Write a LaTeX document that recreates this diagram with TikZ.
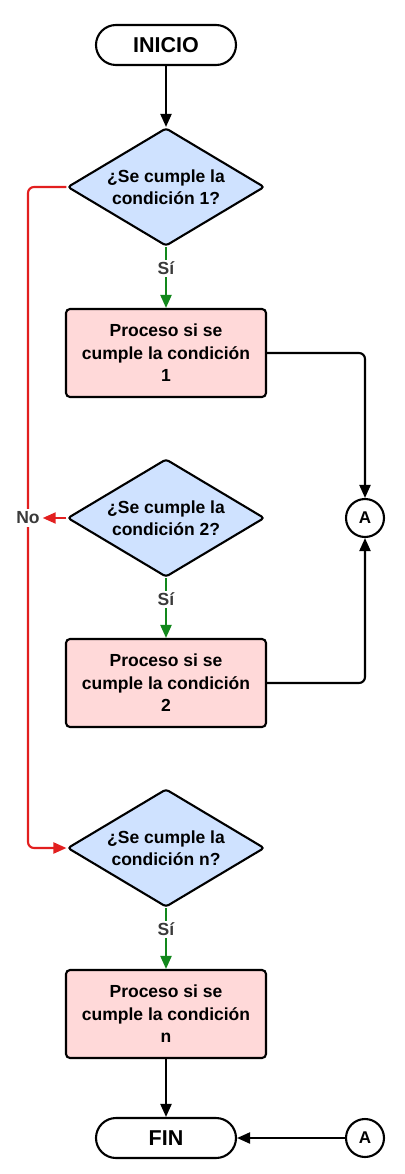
\documentclass[tikz,border=0pt]{standalone}
\usepackage{fontspec}
\setmainfont{Liberation Sans}
\usetikzlibrary{shapes.geometric, arrows.meta}
\definecolor{azulclaro}{HTML}{CFE2FF}
\definecolor{rosa}{HTML}{FFD9D9}
\definecolor{verde}{HTML}{12881C}
\definecolor{rojo}{HTML}{E21F1F}
\definecolor{gris}{HTML}{3A3A3A}
\begin{document}
\begin{tikzpicture}[x=1pt, y=1pt, node distance=165pt, line width=2.1pt, >={Triangle[length=13pt, width=11pt]},
        every node/.style={font=\bfseries\fontsize{17.5}{22.5}\selectfont},
        terminal/.style={draw, rounded corners=20pt, minimum width=140pt, minimum height=40pt, font=\bfseries\fontsize{21.5}{24}\selectfont},
        decision/.style={draw, diamond, aspect=1.67, rounded corners=3pt, fill=azulclaro, align=center, minimum width=197pt, minimum height=118pt, inner sep=0pt},
        proceso/.style={draw, rounded corners=4pt, fill=rosa, align=center, minimum width=200pt, minimum height=88pt},
        conector/.style={draw, circle, minimum size=38pt, inner sep=0pt, font=\bfseries\fontsize{17}{18}\selectfont},
        etiqueta/.style={fill=white, text=gris, inner sep=2pt, font=\bfseries\fontsize{17.5}{18}\selectfont}]
        \useasboundingbox (0,0) rectangle (404,-1174);
        \node[terminal] (inicio) at (166,-45) {INICIO};
        \node[decision, below of=inicio, yshift=23pt] (cond1) {¿Se cumple la\\condición 1?};
        \node[proceso, below of=cond1, yshift=-1pt] (proc1) {Proceso si se\\cumple la condición\\1};
        \node[decision, below of=proc1] (cond2) {¿Se cumple la\\condición 2?};
        \node[proceso, below of=cond2] (proc2) {Proceso si se\\cumple la condición\\2};
        \node[decision, below of=proc2] (condn) {¿Se cumple la\\condición n?};
        \node[proceso, below of=condn, yshift=-1pt] (procn) {Proceso si se\\cumple la condición\\n};
        \node[terminal, below of=procn, yshift=41pt] (fin) {FIN};
        \node[conector, right of=cond2, xshift=34pt] (a1) {A};
        \node[conector, right of=fin, xshift=34pt] (a2) {A};
        \node[etiqueta, left of=cond2, xshift=27pt] (no) {No};
        \draw[->] (inicio) -- (cond1);
        \draw[verde, ->] (cond1.south) -- node[etiqueta, pos=0.35]{Sí} (proc1.north);
        \draw[verde, ->] (cond2.south) -- node[etiqueta, pos=0.35]{Sí} (proc2.north);
        \draw[verde, ->] (condn.south) -- node[etiqueta, pos=0.35]{Sí} (procn.north);
        \draw[->, rounded corners=6pt] (proc1.east) -| (a1.north);
        \draw[->, rounded corners=6pt] (proc2.east) -| (a1.south);
        \draw[->] (procn) -- (fin);
        \draw[->] (a2) -- (fin);
        \draw[rojo, rounded corners=6pt] (cond1.west) -| (no.north);
        \draw[rojo, ->, rounded corners=6pt] (no.south) |- (condn.west);
        \draw[rojo, ->] (cond2.west) -- (no.east);
    \end{tikzpicture}
\end{document}
